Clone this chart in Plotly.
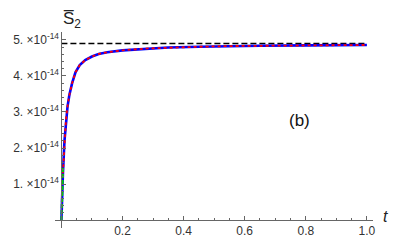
import plotly.graph_objects as go

# data (S2 in units of 1e-14)
t_vals = [0, 0.002, 0.005, 0.01, 0.015, 0.02, 0.026, 0.035, 0.046, 0.06, 0.078,
          0.1, 0.122, 0.15, 0.2, 0.275, 0.35, 0.45, 0.55, 0.65, 0.8, 1.0]
s_vals = [0, 0.6, 1.3, 2.2, 2.8, 3.15, 3.47, 3.8, 4.1, 4.3, 4.44,
          4.54, 4.61, 4.66, 4.71, 4.76, 4.79, 4.81, 4.83, 4.84, 4.85, 4.86]
t_green = [0, 0.001, 0.002, 0.003, 0.004, 0.005]
s_green = [0, 0.3, 0.62, 0.92, 1.2, 1.45]
red_start_t = 0.004
s_limit = 4.9
t_limit = [0, 1.0]
scale = 1e-14

xtick_vals = [0.2, 0.4, 0.6, 0.8, 1.0]
xtick_text = ["0.2", "0.4", "0.6", "0.8", "1.0"]
ytick_vals = [1, 2, 3, 4, 5]
ytick_text = [f"{v}. ×10<sup>-14</sup>" for v in ytick_vals]

xr = [-0.021, 1.02]
yr = [-0.22 * scale, 5.22 * scale]

fig = go.Figure()
fig.add_trace(go.Scatter(x=t_limit, y=[s_limit * scale] * 2, mode="lines",
                         line=dict(color="black", width=1.6, dash="6px,3px")))
fig.add_trace(go.Scatter(x=t_vals, y=[v * scale for v in s_vals], mode="lines",
                         line=dict(color="#0000FF", width=2.6)))
red_t = [t for t in t_vals if t >= red_start_t]
red_s = [s for t, s in zip(t_vals, s_vals) if t >= red_start_t]
fig.add_trace(go.Scatter(x=red_t, y=[v * scale for v in red_s], mode="lines",
                         line=dict(color="#FF0000", width=1.8, dash="3px,3px")))
fig.add_trace(go.Scatter(x=t_green, y=[v * scale for v in s_green], mode="lines",
                         line=dict(color="#00CC00", width=2.2, dash="4px,2px")))

xpos = (0 - xr[0]) / (xr[1] - xr[0])
ypos = (0 - yr[0]) / (yr[1] - yr[0])

axis_color = "#666666"
fig.update_layout(
    width=403, height=246,
    margin=dict(l=47, r=38, t=24, b=26, autoexpand=False),
    paper_bgcolor="white", plot_bgcolor="white",
    showlegend=False,
    font=dict(family="Liberation Sans, Arial, sans-serif", size=13, color="#333333"),
    xaxis=dict(range=xr, showgrid=False, zeroline=False, showline=True, automargin=False,
               linecolor=axis_color, linewidth=1, anchor="free", position=ypos,
               tickvals=xtick_vals, ticktext=xtick_text, ticks="inside",
               ticklen=4, tickcolor=axis_color, tickfont=dict(size=12),
               minor=dict(dtick=0.05, tick0=0, ticks="inside", ticklen=2, tickcolor=axis_color)),
    yaxis=dict(range=yr, showgrid=False, zeroline=False, showline=True, automargin=False,
               linecolor=axis_color, linewidth=1, anchor="free", position=xpos,
               tickvals=[v * scale for v in ytick_vals], ticktext=ytick_text,
               ticks="inside", ticklen=4, tickcolor=axis_color, tickfont=dict(size=12),
               minor=dict(dtick=0.2 * scale, tick0=0, ticks="inside", ticklen=2, tickcolor=axis_color)),
)
fig.add_annotation(x=0.0, y=1.0, xref="x", yref="paper", text="S\u0305<sub>2</sub>",
                   showarrow=False, xanchor="left", yanchor="bottom",
                   font=dict(size=17, color="#222222"), yshift=-1)
fig.add_annotation(x=1.0, y=0, xref="paper", yref="y", text="<i>t</i>",
                   showarrow=False, xanchor="left", yanchor="bottom",
                   font=dict(size=16, color="#222222"), xshift=8, yshift=-7)
fig.add_annotation(x=0.78, y=2.75 * scale, xref="x", yref="y", text="(b)",
                   showarrow=False, font=dict(size=17, color="#111111"))

fig.write_html("out.html")
